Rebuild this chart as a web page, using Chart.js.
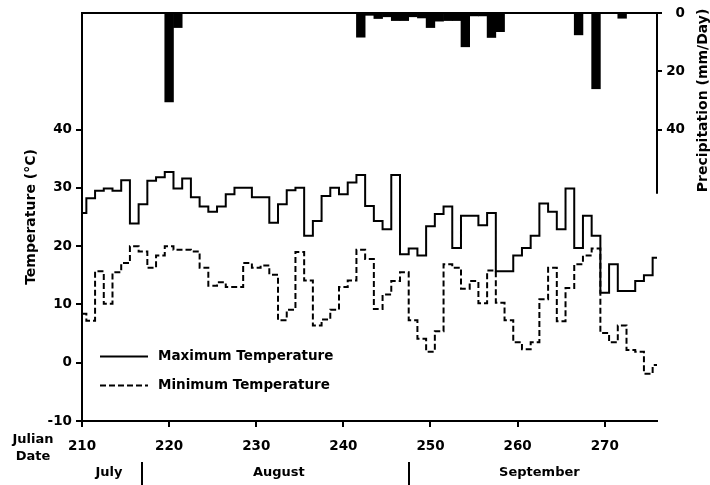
<!DOCTYPE html>
<html>
<head>
<meta charset="utf-8">
<script src="https://cdn.jsdelivr.net/npm/chart.js@4.4.0/dist/chart.umd.min.js"></script>
<style>
  html, body { margin: 0; padding: 0; background: #fff; }
  #wrap { width: 710px; height: 485px; }
</style>
</head>
<body>
<div id="wrap"><canvas id="weather"></canvas></div>
<script>
// Julian days, one value per day
const days = [
  210, 211, 212, 213, 214, 215, 216, 217, 218, 219,
  220, 221, 222, 223, 224, 225, 226, 227, 228, 229,
  230, 231, 232, 233, 234, 235, 236, 237, 238, 239,
  240, 241, 242, 243, 244, 245, 246, 247, 248, 249,
  250, 251, 252, 253, 254, 255, 256, 257, 258, 259,
  260, 261, 262, 263, 264, 265, 266, 267, 268, 269,
  270, 271, 272, 273, 274, 275, 276
];

// daily maximum temperature (deg C)
const maxTemp = [
  25.7, 28.2, 29.5, 29.9, 29.5, 31.3, 23.9, 27.2, 31.2, 31.8,
  32.7, 29.9, 31.6, 28.4, 26.8, 25.9, 26.8, 28.9, 30.0, 30.0,
  28.4, 28.4, 24.0, 27.2, 29.6, 30.0, 21.8, 24.3, 28.6, 30.0,
  28.9, 30.9, 32.2, 26.9, 24.3, 22.9, 32.2, 18.6, 19.6, 18.4,
  23.4, 25.5, 26.8, 19.7, 25.2, 25.2, 23.6, 25.7, 15.7, 15.7,
  18.4, 19.7, 21.8, 27.3, 25.9, 22.9, 29.9, 19.7, 25.2, 21.8,
  12.0, 16.9, 12.3, 12.3, 14.0, 15.0, 18.0
];

// daily minimum temperature (deg C)
const minTemp = [
  8.4, 7.2, 15.7, 10.1, 15.5, 17.1, 20.0, 19.1, 16.3, 18.4,
  20.0, 19.4, 19.4, 19.1, 16.3, 13.2, 13.8, 13.0, 13.0, 17.1,
  16.3, 16.7, 15.1, 7.3, 9.1, 19.0, 14.1, 6.4, 7.4, 9.1,
  13.0, 14.1, 19.4, 17.8, 9.2, 11.7, 14.0, 15.5, 7.3, 4.1,
  1.9, 5.4, 16.9, 16.3, 12.7, 14.0, 10.2, 15.8, 10.3, 7.3,
  3.5, 2.3, 3.5, 10.9, 16.3, 7.1, 12.8, 16.9, 18.4, 19.6,
  5.1, 3.5, 6.4, 2.2, 1.9, -1.9, -0.4
];

// rain days and amounts (mm/day)
const rainDays = [220, 221, 242, 243, 244, 245, 246, 247, 248, 249, 250, 251,
                  252, 253, 254, 255, 256, 257, 258, 267, 269, 272];
const rainMm   = [30.5, 5.0, 8.3, 0.8, 1.9, 1.3, 2.6, 2.6, 1.3, 1.7, 5.0, 2.8,
                  2.6, 2.6, 11.6, 1.0, 1.0, 8.4, 6.4, 7.5, 26.0, 1.8];

const dayTicks = [210, 220, 230, 240, 250, 260, 270];
const tempTicks = [-10, 0, 10, 20, 30, 40];
const rainTicks = [0, 20, 40];

// month strip under the day axis
const monthNames = ['July', 'August', 'September'];
const monthCenters = [213.1, 232.6, 262.5];
const monthBreaks = [216.9, 247.5];

const FONT = 'DejaVu Sans';
const toXY = (xs, ys) => xs.map((x, i) => ({ x: x, y: ys[i] }));

const extrasPlugin = {
  id: 'extras',
  afterDraw: (chart) => {
    const ctx = chart.ctx;
    const area = chart.chartArea;
    const xs = chart.scales.x;
    const rs = chart.scales.y2;
    const zeroY = rs.getPixelForValue(0);

    ctx.save();
    ctx.strokeStyle = '#000';
    ctx.fillStyle = '#000';
    ctx.lineWidth = 2;

    // precipitation baseline along the top and the short right axis
    ctx.beginPath();
    ctx.moveTo(area.left, zeroY);
    ctx.lineTo(area.right, zeroY);
    ctx.moveTo(area.right, zeroY);
    ctx.lineTo(area.right, rs.getPixelForValue(62));
    ctx.stroke();

    // legend inside the plot
    const ds = chart.data.datasets;
    const legendY = [356.5, 385.5];
    [0, 1].forEach(i => {
      ctx.setLineDash(ds[i].borderDash || []);
      ctx.beginPath();
      ctx.moveTo(100, legendY[i]);
      ctx.lineTo(148, legendY[i]);
      ctx.stroke();
    });
    ctx.setLineDash([]);
    ctx.font = 'bold 13.5px "' + FONT + '"';
    ctx.textAlign = 'left';
    ctx.textBaseline = 'middle';
    ctx.fillText(ds[0].label, 158, legendY[0]);
    ctx.fillText(ds[1].label, 158, legendY[1]);

    // Julian Date caption
    ctx.font = 'bold 13px "' + FONT + '"';
    ctx.textAlign = 'center';
    ctx.fillText('Julian', 33, 440);
    ctx.fillText('Date', 33, 457);

    // months and separators
    monthNames.forEach((m, i) => {
      ctx.fillText(m, xs.getPixelForValue(monthCenters[i]), 473);
    });
    ctx.beginPath();
    monthBreaks.forEach(d => {
      const x = Math.round(xs.getPixelForValue(d));
      ctx.moveTo(x, 462);
      ctx.lineTo(x, 485);
    });
    ctx.stroke();

    // right axis title, read bottom to top
    ctx.font = 'bold 14px "' + FONT + '"';
    ctx.translate(703, (zeroY + rs.getPixelForValue(60)) / 2);
    ctx.rotate(-Math.PI / 2);
    ctx.fillText('Precipitation (mm/Day)', 0, 0);
    ctx.restore();
  }
};

const tickFont = { family: FONT, size: 13.5, weight: 'bold' };

new Chart(document.getElementById('weather'), {
  data: {
    datasets: [
      {
        type: 'line',
        label: 'Maximum Temperature',
        data: toXY(days, maxTemp),
        yAxisID: 'y',
        stepped: 'middle',
        borderColor: '#000',
        borderWidth: 2,
        pointRadius: 0,
        fill: false
      },
      {
        type: 'line',
        label: 'Minimum Temperature',
        data: toXY(days, minTemp),
        yAxisID: 'y',
        stepped: 'middle',
        borderColor: '#000',
        borderWidth: 2,
        borderDash: [6, 3],
        pointRadius: 0,
        fill: false
      },
      {
        type: 'bar',
        label: 'Precipitation',
        data: toXY(rainDays, rainMm),
        yAxisID: 'y2',
        backgroundColor: '#000',
        borderWidth: 0,
        barPercentage: 1,
        categoryPercentage: 1
      }
    ]
  },
  options: {
    responsive: true,
    maintainAspectRatio: false,
    animation: false,
    layout: { padding: { top: 13, right: 25, bottom: 0, left: 0 } },
    plugins: {
      legend: { display: false },
      tooltip: { enabled: false }
    },
    scales: {
      x: {
        type: 'linear',
        min: 210,
        max: 276,
        offset: false,
        afterBuildTicks: (s) => { s.ticks = dayTicks.map(v => ({ value: v })); },
        afterFit: (s) => { s.height = 64; },
        ticks: { color: '#000', font: tickFont, padding: 11, maxRotation: 0 },
        grid: { drawOnChartArea: false, offset: false, color: '#000', lineWidth: 2, tickLength: 6 },
        border: { display: true, color: '#000', width: 2 }
      },
      y: {
        position: 'left',
        min: -10,
        max: 60,
        afterBuildTicks: (s) => { s.ticks = tempTicks.map(v => ({ value: v })); },
        afterFit: (s) => { s.width = 82; },
        ticks: { color: '#000', font: tickFont, padding: 4 },
        grid: { drawOnChartArea: false, color: '#000', lineWidth: 2, tickLength: 6 },
        border: { display: true, color: '#000', width: 2 },
        title: {
          display: true,
          text: 'Temperature (°C)',
          color: '#000',
          font: { family: FONT, size: 14, weight: 'bold' },
          padding: { top: 23, bottom: 0 }
        }
      },
      y2: {
        position: 'right',
        reverse: true,
        min: 0,
        max: 140,
        afterBuildTicks: (s) => { s.ticks = rainTicks.map(v => ({ value: v })); },
        afterFit: (s) => { s.width = 28; },
        ticks: { color: '#000', font: tickFont, padding: 4, crossAlign: 'far' },
        grid: { drawOnChartArea: false, color: '#000', lineWidth: 2, tickLength: 5 },
        border: { display: false }
      }
    }
  },
  plugins: [extrasPlugin]
});
</script>
</body>
</html>
